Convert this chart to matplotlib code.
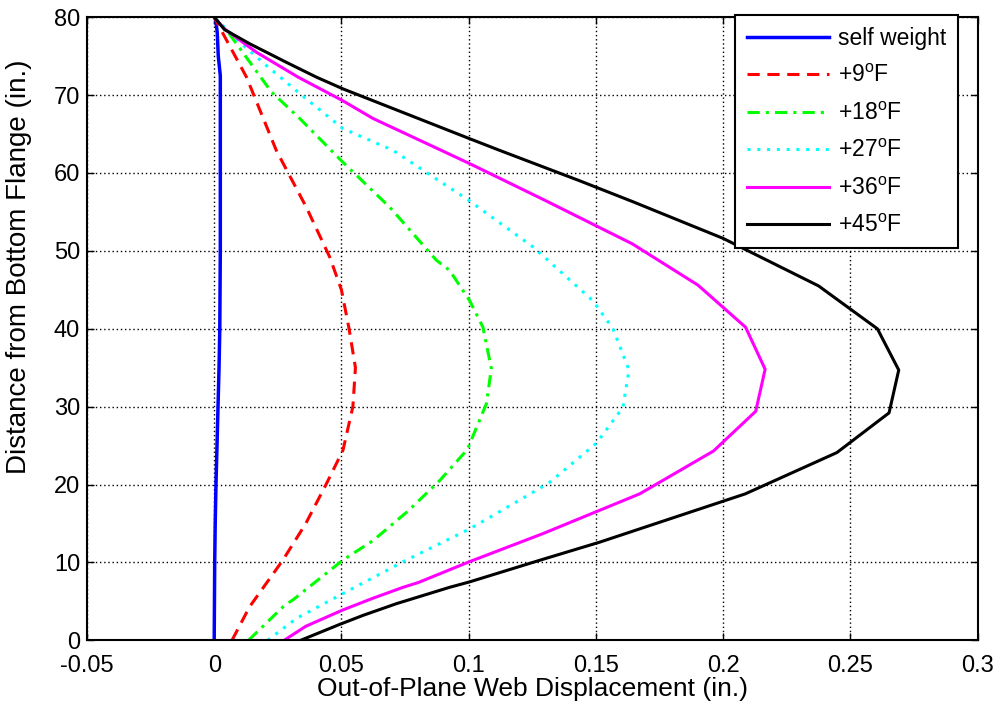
import numpy as np
import matplotlib.pyplot as plt

plt.rcParams['font.family'] = ['Liberation Sans', 'DejaVu Sans']
plt.rcParams['mathtext.fontset'] = 'custom'
plt.rcParams['mathtext.rm'] = 'Liberation Sans'

# Height along web (in.) and out-of-plane displacement (in.) for each case
y_self = [0, 5, 10, 15, 20, 25, 30, 35, 40, 50, 60, 70, 72.5, 75, 78, 80]
x_self = [0.0, 0.0001, 0.0002, 0.0004, 0.0007, 0.0011, 0.0015, 0.0019, 0.0022, 0.0024, 0.0024, 0.0024, 0.0024, 0.0016, 0.0012, 0.0005]

y_9 = [0, 4.3, 10.3, 15, 20.1, 24.4, 30, 35, 40, 45, 49.2, 55.6, 62.9, 72.3, 78.3, 80]
x_9 = [0.007, 0.0139, 0.027, 0.036, 0.0441, 0.0506, 0.0545, 0.0555, 0.053, 0.050, 0.0454, 0.0362, 0.0244, 0.0127, 0.0028, 0.0]

y_18 = [0, 4.5, 5.2, 10.3, 12.8, 16.6, 20.5, 24.5, 30.4, 34.9, 40.2, 43.6, 47.5, 48.8, 55.6, 61.4, 67.0, 70.4, 78.1, 80]
x_18 = [0.0135, 0.0277, 0.031, 0.0506, 0.0624, 0.0762, 0.0886, 0.0995, 0.107, 0.1089, 0.1056, 0.1004, 0.0925, 0.0873, 0.069, 0.0505, 0.0336, 0.0225, 0.0054, 0.0]

y_27 = [0, 2.8, 6.0, 10.3, 14.3, 18.0, 20.2, 25.3, 29.9, 34.7, 40.0, 43.6, 50.5, 56.4, 62.9, 65.7, 70.2, 73.8, 76.8, 80]
x_27 = [0.021, 0.0323, 0.0506, 0.0755, 0.1004, 0.12, 0.1315, 0.1502, 0.1606, 0.163, 0.1567, 0.1488, 0.1253, 0.1004, 0.0703, 0.0506, 0.0336, 0.0205, 0.010, 0.0]

y_36 = [0, 1.8, 3.9, 5.4, 6.8, 7.4, 10.1, 13.7, 18.8, 24.3, 29.4, 34.8, 40.2, 45.6, 50.9, 56.5, 61.2, 67.0, 69.3, 72.3, 75.5, 78.5, 80]
x_36 = [0.0275, 0.036, 0.0506, 0.0624, 0.0742, 0.0801, 0.1004, 0.1292, 0.1672, 0.1962, 0.2128, 0.2165, 0.2088, 0.1901, 0.1643, 0.1299, 0.1004, 0.0624, 0.0504, 0.033, 0.0166, 0.004, 0.0]

y_45 = [0, 2, 3.2, 4.7, 6.8, 7.5, 10.4, 12.6, 18.8, 24.1, 29.2, 34.7, 40.0, 45.5, 51.6, 56.3, 59.0, 62.9, 64.4, 70.8, 72.3, 74.2, 76.6, 78.4, 80]
x_45 = [0.034, 0.049, 0.0585, 0.0716, 0.0925, 0.1004, 0.1292, 0.1515, 0.2087, 0.2447, 0.2652, 0.269, 0.2606, 0.2375, 0.2, 0.1646, 0.1436, 0.1122, 0.1004, 0.0506, 0.0402, 0.0284, 0.0139, 0.0041, 0.0]

xticks = [-0.05, 0, 0.05, 0.1, 0.15, 0.2, 0.25, 0.3]
xtick_labels = ['-0.05', '0', '0.05', '0.1', '0.15', '0.2', '0.25', '0.3']

fig = plt.figure(figsize=(10.03, 7.17), dpi=100)
ax = fig.add_axes([0.0867, 0.107, 0.888, 0.869])

lw = 2.2
ax.plot(x_self, y_self, color='#0000ff', lw=lw + 0.3, label='self weight')
ax.plot(x_9, y_9, color='#ff0000', lw=lw, ls=(0, (4, 2.5)), label=r'+9$^\mathrm{o}$F')
ax.plot(x_18, y_18, color='#00ff00', lw=lw, ls=(0, (4, 2, 1, 2)), label=r'+18$^\mathrm{o}$F')
ax.plot(x_27, y_27, color='#00ffff', lw=lw, ls=(0, (1, 2.2)), label=r'+27$^\mathrm{o}$F')
ax.plot(x_36, y_36, color='#ff00ff', lw=lw, label=r'+36$^\mathrm{o}$F')
ax.plot(x_45, y_45, color='black', lw=lw, label=r'+45$^\mathrm{o}$F')

ax.set_xlim(-0.05, 0.3)
ax.set_ylim(0, 80)
ax.set_xticks(xticks)
ax.set_xticklabels(xtick_labels)
ax.set_yticks(range(0, 81, 10))
ax.tick_params(axis='both', which='both', direction='in', top=True, right=True,
               labelsize=17, length=5, width=1)
ax.tick_params(axis='x', pad=10.5)
ax.tick_params(axis='y', pad=5)
ax.grid(True, color='black', linestyle=(0, (1, 2)), linewidth=1)
for s in ax.spines.values():
    s.set_linewidth(1.5)

ax.set_xlabel('Out-of-Plane Web Displacement (in.)', fontsize=19, labelpad=0)
ax.set_ylabel('Distance from Bottom Flange (in.)', fontsize=20)
ax.yaxis.set_label_coords(-0.062, 0.6)

leg = ax.legend(loc='upper right', bbox_to_anchor=(0.978, 1.003), borderaxespad=0,
                fontsize=16.5, handlelength=3.6, handletextpad=0.4,
                labelspacing=0.63, borderpad=0.5, fancybox=False, framealpha=1,
                edgecolor='black')
leg.get_frame().set_linewidth(1.5)

fig.savefig('out.png', dpi=100)
